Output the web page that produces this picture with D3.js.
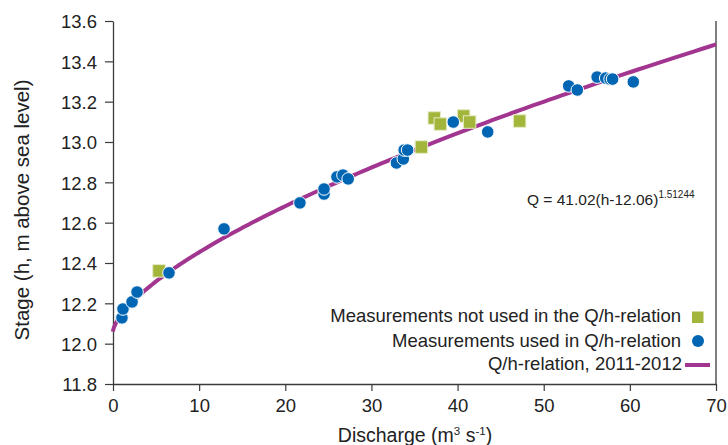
<!DOCTYPE html>
<html>
<head>
<meta charset="utf-8">
<script src="https://cdn.jsdelivr.net/npm/d3@7"></script>
<style>
  html, body { margin: 0; padding: 0; background: #fff; }
  svg { display: block; font-family: "Liberation Sans", Arial, sans-serif; }
</style>
</head>
<body>
<svg id="chart" width="728" height="445"></svg>
<script>
// Discharge (m3/s) and stage (m) of the gauging measurements
const usedQ = [1.04, 1.16, 2.21, 2.79, 6.5, 12.89, 21.7, 24.5, 24.5, 26.0, 26.7, 27.3, 32.9, 33.7, 33.8, 34.2, 39.5, 43.5, 52.9, 53.9, 56.2, 57.2, 57.7, 58.0, 60.4];
const usedH = [12.128, 12.172, 12.207, 12.256, 12.351, 12.569, 12.698, 12.742, 12.767, 12.827, 12.836, 12.817, 12.896, 12.916, 12.96, 12.96, 13.099, 13.05, 13.278, 13.258, 13.322, 13.317, 13.312, 13.312, 13.298];

const notUsedQ = [5.34, 35.8, 37.3, 38.0, 40.7, 41.4, 47.2];
const notUsedH = [12.361, 12.975, 13.119, 13.089, 13.129, 13.099, 13.104];

// Rating curve parameters: Q = a (h - h0)^b
const ratingA = 41.02, ratingH0 = 12.06, ratingB = 1.51244;

const xTicks = [0, 10, 20, 30, 40, 50, 60, 70];
const yTicks = [11.8, 12.0, 12.2, 12.4, 12.6, 12.8, 13.0, 13.2, 13.4, 13.6];

const legendLabels = ["Measurements not used in the Q/h-relation", "Measurements used in Q/h-relation", "Q/h-relation, 2011-2012"];

const colors = { used: "#0066b3", notUsed: "#a3b53a", curve: "#a2358f", axis: "#3a3a3a", text: "#222" };

const svg = d3.select("#chart");
const m = { left: 113, right: 716, top: 21, bottom: 384 };

const x = d3.scaleLinear().domain([0, 70]).range([m.left, m.right]);
const y = d3.scaleLinear().domain([11.8, 13.6]).range([m.bottom, m.top]);

// axes
const xAxis = svg.append("g")
  .attr("transform", `translate(0,${m.bottom})`)
  .call(d3.axisBottom(x).tickValues(xTicks).tickFormat(d3.format("d")).tickSize(7).tickSizeOuter(0));
const yAxis = svg.append("g")
  .attr("transform", `translate(${m.left},0)`)
  .call(d3.axisLeft(y).tickValues(yTicks).tickFormat(d3.format(".1f")).tickSize(8).tickSizeOuter(0));

[xAxis, yAxis].forEach(g => {
  g.select(".domain").attr("stroke", colors.axis).attr("stroke-width", 1.3);
  g.selectAll(".tick line").attr("stroke", colors.axis).attr("stroke-width", 1.2);
  g.selectAll(".tick text").attr("fill", colors.text).style("font-size", "18.5px");
});
xAxis.selectAll(".tick text").attr("y", 10).attr("dy", "0.95em");
yAxis.selectAll(".tick text").attr("x", -16).attr("dy", "0.36em");

// right frame line
svg.append("line")
  .attr("x1", x(70)).attr("x2", x(70))
  .attr("y1", y(13.6)).attr("y2", y(11.8))
  .attr("stroke", colors.axis).attr("stroke-width", 1.3);

// axis titles
const xTitle = svg.append("text")
  .attr("x", 415).attr("y", 442)
  .attr("text-anchor", "middle").attr("fill", colors.text).style("font-size", "19.5px");
xTitle.append("tspan").text("Discharge (m");
xTitle.append("tspan").text("3").attr("dy", -7).style("font-size", "11.5px");
xTitle.append("tspan").text(" s").attr("dy", 7);
xTitle.append("tspan").text("-1").attr("dy", -7).style("font-size", "11.5px");
xTitle.append("tspan").text(")").attr("dy", 7);

svg.append("text")
  .attr("transform", "translate(29,210) rotate(-90)")
  .attr("text-anchor", "middle").attr("fill", colors.text).style("font-size", "20.5px")
  .text("Stage (h, m above sea level)");

// rating curve
const hEnd = ratingH0 + Math.pow(70 / ratingA, 1 / ratingB);
const curvePts = d3.range(0, 201).map(i => {
  const h = ratingH0 + (hEnd - ratingH0) * Math.pow(i / 200, 1.6);
  return [ratingA * Math.pow(h - ratingH0, ratingB), h];
});
svg.append("path")
  .datum(curvePts)
  .attr("fill", "none")
  .attr("stroke", colors.curve)
  .attr("stroke-width", 4)
  .attr("d", d3.line().x(d => x(d[0])).y(d => y(d[1])));

// measurements not used (squares)
const sq = 12.5;
svg.append("g").selectAll("rect")
  .data(notUsedQ.map((q, i) => [q, notUsedH[i]]))
  .join("rect")
  .attr("x", d => x(d[0]) - sq / 2).attr("y", d => y(d[1]) - sq / 2)
  .attr("width", sq).attr("height", sq)
  .attr("fill", colors.notUsed).attr("stroke", "#e4ecc4").attr("stroke-width", 1);

// measurements used (circles)
svg.append("g").selectAll("circle")
  .data(usedQ.map((q, i) => [q, usedH[i]]))
  .join("circle")
  .attr("cx", d => x(d[0])).attr("cy", d => y(d[1]))
  .attr("r", 6.3)
  .attr("fill", colors.used).attr("stroke", "#fff").attr("stroke-width", 1);

// equation
const eq = svg.append("text")
  .attr("x", 527).attr("y", 205)
  .attr("fill", colors.text).style("font-size", "15.5px");
eq.append("tspan").text(`Q = ${ratingA.toFixed(2)}(h-${ratingH0.toFixed(2)})`);
eq.append("tspan").text(String(ratingB)).attr("dy", -7).style("font-size", "10px");

// legend
const legY = [315.5, 340.5, 364];
legendLabels.forEach((lab, i) => {
  svg.append("text")
    .attr("x", i === 2 ? 682 : 681).attr("y", legY[i])
    .attr("dy", "0.35em").attr("text-anchor", "end")
    .attr("fill", colors.text).style("font-size", "18.5px")
    .text(lab);
});
svg.append("rect").attr("x", 692).attr("y", 311.5).attr("width", 11.5).attr("height", 11.5)
  .attr("fill", colors.notUsed);
svg.append("circle").attr("cx", 698).attr("cy", 341).attr("r", 6)
  .attr("fill", colors.used);
svg.append("line").attr("x1", 685).attr("x2", 710).attr("y1", 365).attr("y2", 365)
  .attr("stroke", colors.curve).attr("stroke-width", 4);
</script>
</body>
</html>
